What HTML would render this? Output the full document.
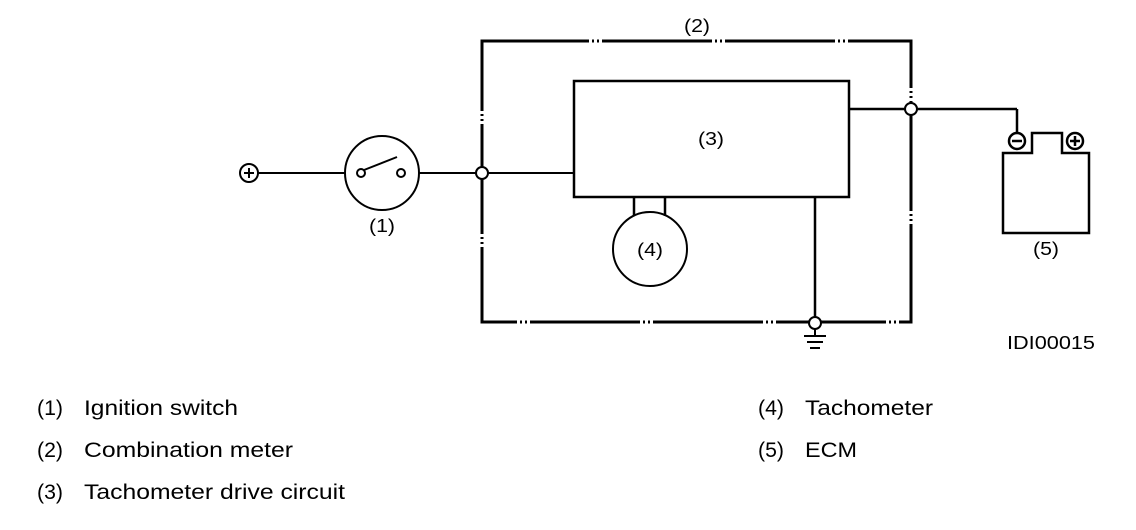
<!DOCTYPE html>
<html><head><meta charset="utf-8"><style>
html,body{margin:0;padding:0;background:#fff;}
svg{display:block;}
text{font-family:"Liberation Sans",Arial,sans-serif;fill:#000;}
</style></head><body>
<svg width="1136" height="530" viewBox="0 0 1136 530" xmlns="http://www.w3.org/2000/svg">
<g stroke="#000" fill="none">
<path d="M482 44 L482 41 L911 41 L911 322 L482 322 Z" stroke-width="3" stroke-dasharray="110 3 2 3 2 3"/>
<rect x="574" y="81" width="275" height="116" stroke-width="2.5"/>
<line x1="258" y1="173" x2="345" y2="173" stroke-width="2"/>
<line x1="419" y1="173" x2="574" y2="173" stroke-width="2"/>
<line x1="849" y1="109" x2="1017" y2="109" stroke-width="2.5"/>
<line x1="1017" y1="109" x2="1017" y2="134" stroke-width="2.5"/>
<line x1="815" y1="197" x2="815" y2="322" stroke-width="2.5"/>
<line x1="634" y1="197" x2="634" y2="216" stroke-width="2.5"/>
<line x1="665" y1="197" x2="665" y2="216" stroke-width="2.5"/>
<circle cx="249" cy="173" r="9" stroke-width="2"/>
<line x1="244" y1="173" x2="254" y2="173" stroke-width="2"/>
<line x1="249" y1="168" x2="249" y2="178" stroke-width="2"/>
<circle cx="382" cy="173" r="37" stroke-width="2"/>
<circle cx="361" cy="173" r="4" stroke-width="2" fill="#fff"/>
<circle cx="401" cy="173" r="4" stroke-width="2" fill="#fff"/>
<line x1="364" y1="170" x2="397" y2="157" stroke-width="2"/>
<circle cx="650" cy="249" r="37" stroke-width="2"/>
<circle cx="482" cy="173" r="6" stroke-width="2" fill="#fff"/>
<circle cx="911" cy="109" r="6" stroke-width="2" fill="#fff"/>
<circle cx="815" cy="323" r="6" stroke-width="2" fill="#fff"/>
<line x1="815" y1="329" x2="815" y2="336" stroke-width="2"/>
<line x1="804" y1="336" x2="826" y2="336" stroke-width="2"/>
<line x1="807" y1="342" x2="823" y2="342" stroke-width="2"/>
<line x1="810" y1="348" x2="820" y2="348" stroke-width="2"/>
<path d="M1003 153 L1032 153 L1032 133 L1062 133 L1062 153 L1089 153 L1089 233 L1003 233 Z" stroke-width="2.5"/>
<circle cx="1017" cy="141" r="8" stroke-width="2.5" fill="#fff"/>
<line x1="1012" y1="141" x2="1022" y2="141" stroke-width="2.5"/>
<circle cx="1075" cy="141" r="8" stroke-width="2.5" fill="#fff"/>
<line x1="1070" y1="141" x2="1080" y2="141" stroke-width="2.5"/>
<line x1="1075" y1="136" x2="1075" y2="146" stroke-width="2.5"/>
</g>
<g font-size="18">
<text x="684" y="32" textLength="26" lengthAdjust="spacingAndGlyphs">(2)</text>
<text x="698" y="145" textLength="26" lengthAdjust="spacingAndGlyphs">(3)</text>
<text x="637" y="256" textLength="26" lengthAdjust="spacingAndGlyphs">(4)</text>
<text x="369" y="232" textLength="26" lengthAdjust="spacingAndGlyphs">(1)</text>
<text x="1033" y="255" textLength="26" lengthAdjust="spacingAndGlyphs">(5)</text>
<text x="1007" y="349" textLength="88" lengthAdjust="spacingAndGlyphs">IDI00015</text>
</g>
<g font-size="21">
<text x="37" y="415" textLength="26" lengthAdjust="spacingAndGlyphs">(1)</text><text x="84" y="415" textLength="154" lengthAdjust="spacingAndGlyphs">Ignition switch</text>
<text x="37" y="457" textLength="26" lengthAdjust="spacingAndGlyphs">(2)</text><text x="84" y="457" textLength="209" lengthAdjust="spacingAndGlyphs">Combination meter</text>
<text x="37" y="499" textLength="26" lengthAdjust="spacingAndGlyphs">(3)</text><text x="84" y="499" textLength="261" lengthAdjust="spacingAndGlyphs">Tachometer drive circuit</text>
<text x="758" y="415" textLength="26" lengthAdjust="spacingAndGlyphs">(4)</text><text x="805" y="415" textLength="128" lengthAdjust="spacingAndGlyphs">Tachometer</text>
<text x="758" y="457" textLength="26" lengthAdjust="spacingAndGlyphs">(5)</text><text x="805" y="457" textLength="52" lengthAdjust="spacingAndGlyphs">ECM</text>
</g>
</svg>
</body></html>
